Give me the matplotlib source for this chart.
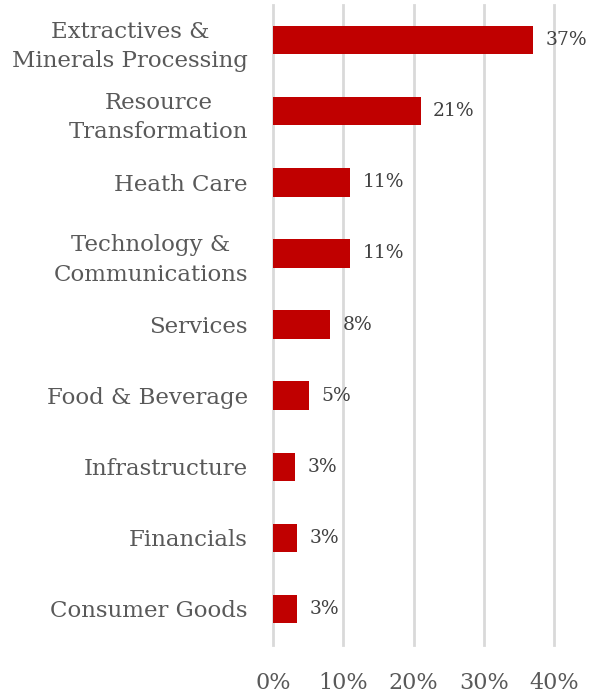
import matplotlib
matplotlib.use("Agg")
import matplotlib.pyplot as plt

categories = [
    "Extractives &\nMinerals Processing",
    "Resource\nTransformation",
    "Heath Care",
    "Technology &\nCommunications",
    "Services",
    "Food & Beverage",
    "Infrastructure",
    "Financials",
    "Consumer Goods",
]
shares = [37, 21, 11, 11, 8.1, 5.1, 3.1, 3.4, 3.4]
xticks = [0, 10, 20, 30, 40]

FONT = "DejaVu Serif"
BAR = "#C00000"
GRID = "#D9D9D9"
TEXT = "#595959"

fig = plt.figure(figsize=(5.91, 6.96), dpi=100)
W, H = 591, 696
ax = fig.add_axes([273 / W, (H - 644.5) / H, (554 - 273) / W, 640 / H])

ypos = list(range(len(categories)))
ax.barh(ypos, shares, height=0.4, color=BAR, zorder=3)
ax.set_ylim(len(categories) - 0.5, -0.5)
ax.set_xlim(0, 40)

ax.set_xticks(xticks)
ax.set_xticklabels([f"{t}%" for t in xticks], fontfamily=FONT, fontsize=16, color=TEXT)
ax.set_yticks(ypos)
ax.set_yticklabels(categories, fontfamily=FONT, fontsize=16.5, color=TEXT,
                   ha="right", multialignment="center", linespacing=1.45)
ax.tick_params(axis="y", length=0, pad=18)
ax.tick_params(axis="x", length=0, pad=20)

for t in xticks:
    ax.axvline(t, color=GRID, linewidth=2, zorder=0, clip_on=False)
for s in ax.spines.values():
    s.set_visible(False)

for y, v in zip(ypos, shares):
    ax.text(v + 1.8, y, f"{v:.0f}%", va="center", ha="left",
            fontfamily=FONT, fontsize=13.5, color="#404040")

fig.savefig("out.png", dpi=100)
